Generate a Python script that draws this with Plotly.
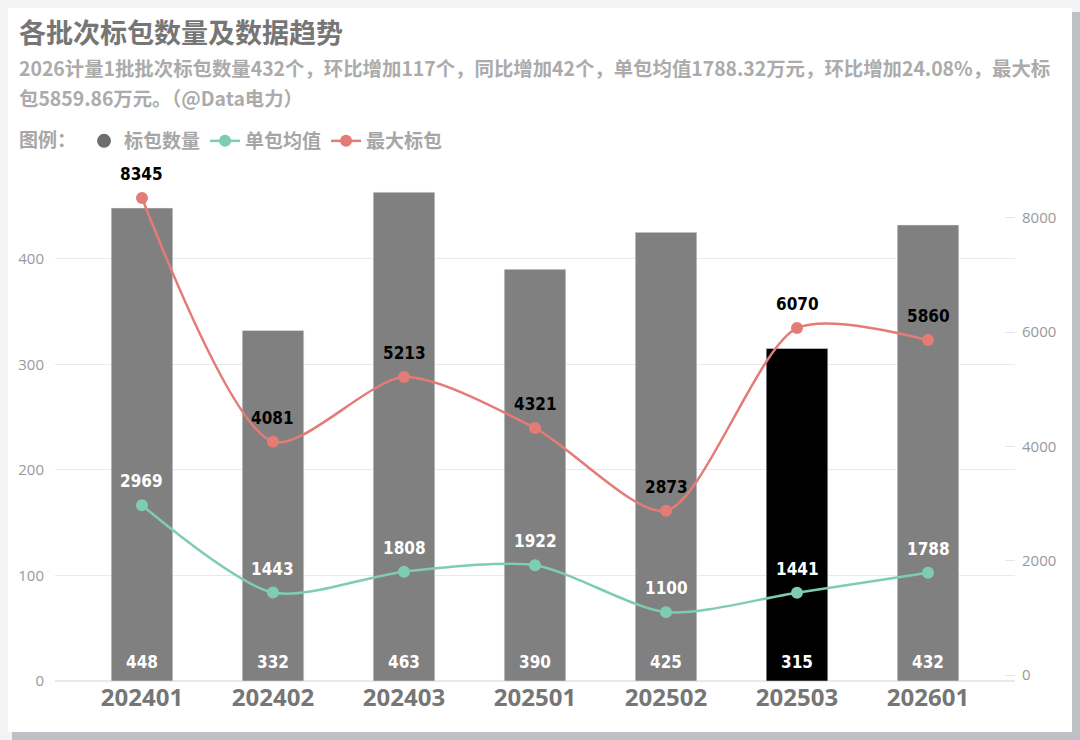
import plotly.graph_objects as go

# 批次与数据
batches = ['202401', '202402', '202403', '202501', '202502', '202503', '202601']
pkg_count = [448, 332, 463, 390, 425, 315, 432]          # 标包数量
avg_value = [2969, 1443, 1808, 1922, 1100, 1441, 1788]    # 单包均值
max_value = [8345, 4081, 5213, 4321, 2873, 6070, 5860]    # 最大标包
highlight = '202503'

title_text = '各批次标包数量及数据趋势'
sub_line1 = '2026计量1批批次标包数量432个，环比增加117个，同比增加42个，单包均值1788.32万元，环比增加24.08%，最大标'
sub_line2 = '包5859.86万元。（@Data电力）'

CJK = 'Noto Sans CJK SC'
NUM = 'Liberation Sans Narrow, DejaVu Sans Condensed, Roboto, sans-serif'
bar_colors = ['#000000' if b == highlight else '#808080' for b in batches]
teal = '#7fcdb1'
red = '#e57b76'

fig = go.Figure()

fig.add_trace(go.Bar(
    x=batches, y=pkg_count, marker_color=bar_colors, width=0.47,
    showlegend=False, hoverinfo='x+y'
))
fig.add_trace(go.Scatter(
    x=batches, y=avg_value, yaxis='y2', name='单包均值',
    mode='lines+markers', line=dict(color=teal, width=2.5, shape='spline', smoothing=0.75),
    marker=dict(size=12, color=teal)
))
fig.add_trace(go.Scatter(
    x=batches, y=max_value, yaxis='y2', name='最大标包',
    mode='lines+markers', line=dict(color=red, width=2.5, shape='spline', smoothing=0.75),
    marker=dict(size=12, color=red)
))
# legend-only entry for the bars (circle symbol)
fig.add_trace(go.Scatter(
    x=[None], y=[None], name='标包数量', mode='markers',
    marker=dict(size=14, color='#6e6e6e'), legendrank=1
))

annotations = []
for i, v in enumerate(pkg_count):
    annotations.append(dict(x=i, y=0, yref='y', text=str(v), showarrow=False,
                            yanchor='middle', yshift=19,
                            font=dict(family=NUM, size=17, color='white', weight='bold')))
for i, v in enumerate(avg_value):
    annotations.append(dict(x=i, y=v, yref='y2', text=str(v), showarrow=False,
                            yanchor='middle', yshift=24,
                            font=dict(family=NUM, size=17, color='white', weight='bold')))
for i, v in enumerate(max_value):
    annotations.append(dict(x=i, y=v, yref='y2', text=str(v), showarrow=False,
                            yanchor='middle', yshift=24,
                            font=dict(family=NUM, size=17, color='black', weight='bold')))

# 卡片背景与阴影 (paper coords: x=(px-55)/960, y=(681-py)/531)
def px_x(p):
    return (p - 55) / 960

def px_y(p):
    return (681 - p) / 531

# 标题与说明
annotations += [
    dict(xref='paper', yref='paper', x=px_x(17), y=px_y(32), xanchor='left', yanchor='middle',
         text=title_text, showarrow=False,
         font=dict(family=CJK, size=27, color='#767676', weight='bold')),
    dict(xref='paper', yref='paper', x=px_x(17), y=px_y(68), xanchor='left', yanchor='middle',
         text=sub_line1, showarrow=False,
         font=dict(family=CJK, size=19.4, color='#ababab', weight='bold')),
    dict(xref='paper', yref='paper', x=px_x(17), y=px_y(97), xanchor='left', yanchor='middle',
         text=sub_line2, showarrow=False,
         font=dict(family=CJK, size=19.4, color='#ababab', weight='bold')),
]

shapes = [
    dict(type='rect', xref='paper', yref='paper', layer='below', line_width=0,
         x0=px_x(12), x1=px_x(1080), y0=px_y(740), y1=px_y(12), fillcolor='#bdc0c5'),
    dict(type='rect', xref='paper', yref='paper', layer='below', line_width=0,
         x0=px_x(8), x1=px_x(1072), y0=px_y(732), y1=px_y(8), fillcolor='#ffffff'),
]

fig.update_layout(
    width=1080, height=740,
    margin=dict(l=55, r=65, t=150, b=59),
    paper_bgcolor='#f1f3f4',
    plot_bgcolor='rgba(0,0,0,0)',
    annotations=annotations,
    shapes=shapes,
    showlegend=True,
    legend=dict(
        orientation='h', x=px_x(17), y=px_y(122), xanchor='left', yanchor='top',
        title=dict(text='图例：', font=dict(family=CJK, size=19, color='#a6a6a6', weight='bold')),
        font=dict(family=CJK, size=19, color='#a6a6a6', weight='bold'),
        itemwidth=30, bgcolor='rgba(0,0,0,0)', traceorder='normal'
    ),
    xaxis=dict(
        type='category', range=[-0.664, 6.664], showgrid=False, zeroline=False,
        showline=False, ticks='',
        tickfont=dict(family='Open Sans, Noto Sans', size=24, color='#767676', weight='bold')
    ),
    yaxis=dict(
        range=[0, 503], tickvals=[0, 100, 200, 300, 400], showgrid=True,
        gridcolor='#e9e9e9', gridwidth=1, zeroline=True, zerolinecolor='#e9e9e9',
        tickfont=dict(family='Open Sans', size=15, color='#999999'),
        ticks='', ticklabelstandoff=10
    ),
    yaxis2=dict(
        overlaying='y', side='right', range=[-105, 9186], tickvals=[0, 2000, 4000, 6000, 8000],
        showgrid=False, zeroline=False, ticks='inside', ticklen=10, tickcolor='#e6e6e6',
        tickfont=dict(family='Open Sans', size=15, color='#999999'),
        ticklabelstandoff=6
    ),
)

fig.write_html('out.html', config={'displayModeBar': False},
               post_script="document.body.style.margin='0';")
